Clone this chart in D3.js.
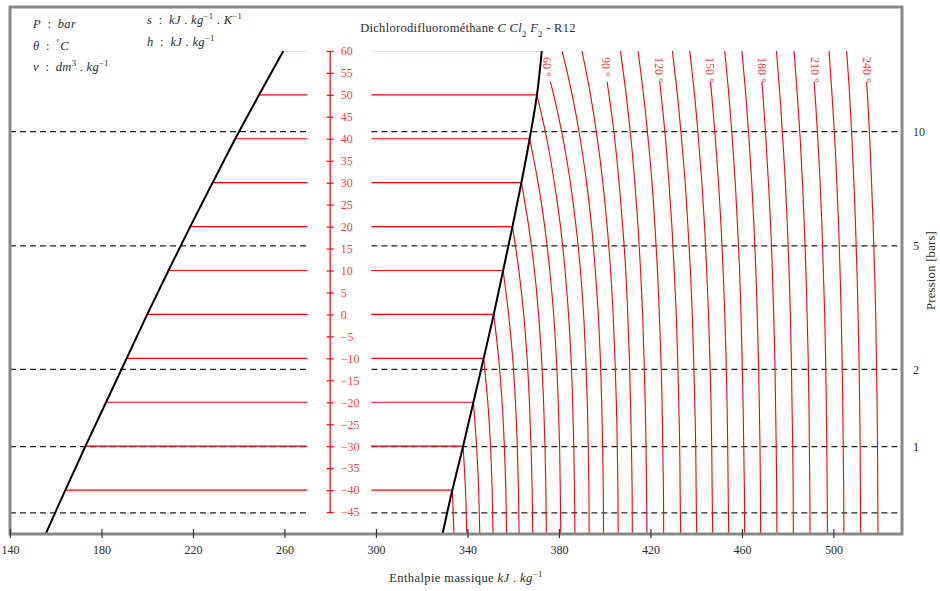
<!DOCTYPE html>
<html>
<head>
<meta charset="utf-8">
<title>R12 diagram</title>
<script src="https://cdn.jsdelivr.net/npm/d3@7"></script>
<style>
body { margin: 0; background: #fff; }
text { font-family: "Liberation Serif", "DejaVu Serif", serif; }
</style>
</head>
<body>
<script>
// saturation temperature levels (degC), used as the vertical scale (bottom to top)
var satLevels = [-50, -40, -30, -20, -10, 0, 10, 20, 30, 40, 50, 60];
// enthalpy of saturated liquid / vapour at those levels (kJ/kg)
var liquidH = [155.6, 164.2, 173.0, 182.0, 191.0, 200.0, 209.3, 218.8, 228.6, 238.5, 248.9, 259.5];
var vaporH  = [329.1, 333.4, 338.1, 342.6, 347.1, 351.5, 355.6, 359.7, 363.6, 367.2, 370.4, 372.5];

// isotherms of the vapour region: h read at each level from -50 up to min(T, 60)
var isoTemps = [-40, -30, -20, -10, 0, 10, 20, 30, 40, 50, 60, 70, 80, 90, 100, 110, 120,
                130, 140, 150, 160, 170, 180, 190, 200, 210, 220, 230, 240];
var isoH = [
  [334.1, 333.4],
  [339.7, 339.15, 338.1],
  [345.4, 344.9, 344.0, 342.6],
  [351.2, 350.8, 350.1, 348.9, 347.1],
  [357.1, 356.8, 356.15, 355.15, 353.65, 351.5],
  [362.6, 362.3, 361.8, 361.0, 359.8, 358.0, 355.6],
  [368.5, 368.3, 367.8, 367.1, 366.1, 364.6, 362.5, 359.7],
  [374.5, 374.3, 373.9, 373.3, 372.4, 371.1, 369.3, 366.8, 363.6],
  [380.8, 380.6, 380.3, 379.7, 378.9, 377.7, 376.0, 373.8, 370.9, 367.2],
  [387.0, 386.8, 386.5, 386.0, 385.3, 384.2, 382.7, 380.7, 378.0, 374.7, 370.4],
  [393.2, 393.1, 392.8, 392.4, 391.7, 390.8, 389.4, 387.5, 385.0, 381.8, 377.7, 372.5],
  [399.5, 399.4, 399.1, 398.7, 398.1, 397.2, 395.9, 394.3, 392.1, 389.3, 385.8, 381.4],
  [405.9, 405.8, 405.5, 405.1, 404.5, 403.7, 402.6, 401.1, 399.2, 396.8, 393.8, 390.1],
  [412.1, 412.0, 411.7, 411.3, 410.8, 410.1, 409.2, 407.9, 406.3, 404.4, 401.9, 399.0],
  [418.5, 418.3, 418.1, 417.7, 417.2, 416.6, 415.7, 414.6, 413.2, 411.5, 409.4, 406.9],
  [425.8, 425.7, 425.4, 425.1, 424.6, 423.9, 423.1, 422.0, 420.7, 419.0, 417.0, 414.6],
  [433.2, 433.0, 432.8, 432.4, 431.9, 431.3, 430.4, 429.4, 428.1, 426.6, 424.7, 422.5],
  [440.2, 440.0, 439.8, 439.4, 438.9, 438.3, 437.5, 436.4, 435.2, 433.6, 431.8, 429.6],
  [447.2, 447.0, 446.8, 446.5, 446.0, 445.4, 444.6, 443.7, 442.5, 441.0, 439.3, 437.2],
  [454.2, 454.0, 453.8, 453.5, 453.1, 452.5, 451.8, 450.9, 449.8, 448.4, 446.8, 444.9],
  [461.2, 461.1, 460.8, 460.5, 460.1, 459.6, 459.0, 458.1, 457.1, 455.8, 454.3, 452.5],
  [468.2, 468.1, 467.9, 467.6, 467.2, 466.7, 466.1, 465.3, 464.3, 463.1, 461.7, 460.0],
  [475.3, 475.2, 475.0, 474.7, 474.4, 473.9, 473.3, 472.6, 471.6, 470.5, 469.2, 467.6],
  [482.5, 482.4, 482.2, 481.9, 481.6, 481.2, 480.6, 479.9, 479.0, 477.9, 476.6, 475.1],
  [489.8, 489.7, 489.5, 489.3, 489.0, 488.5, 488.0, 487.3, 486.5, 485.5, 484.2, 482.8],
  [497.4, 497.3, 497.1, 496.9, 496.6, 496.2, 495.6, 495.0, 494.2, 493.2, 492.0, 490.6],
  [504.6, 504.5, 504.3, 504.1, 503.8, 503.4, 502.9, 502.3, 501.5, 500.6, 499.4, 498.1],
  [511.9, 511.8, 511.7, 511.5, 511.2, 510.8, 510.3, 509.7, 509.0, 508.1, 507.1, 505.8],
  [519.5, 519.4, 519.3, 519.1, 518.8, 518.5, 518.0, 517.4, 516.7, 515.9, 514.9, 513.7]
];
var isoLabels = [60, 90, 120, 150, 180, 210, 240];

// constant temperature lines in the two-phase region
var mixTemps = [-40, -30, -20, -10, 0, 10, 20, 30, 40, 50];

// tick values
var tempTicks = [-45, -40, -35, -30, -25, -20, -15, -10, -5, 0, 5, 10, 15, 20, 25, 30, 35, 40, 45, 50, 55, 60];
var hTicks = [140, 180, 220, 260, 300, 340, 380, 420, 460, 500];
var pressLabels = ["10", "5", "2", "1", ""];
var pressTsat = [41.6, 15.6, -12.5, -30.1, -45.2];

var W = 940, H = 591;
var mLeft = 10, mRight = 902, mTop = 7, mBottom = 534;
var gapFrom = 270, gapTo = 298, tempAxisH = 280;
var labelCutT = 53;
var ink = "#2a2a2a";

var x = d3.scaleLinear().domain([140, 530]).range([mLeft, mRight]);
var y = d3.scaleLinear().domain([-50, 70]).range([mBottom, mTop]);

var svg = d3.select("body").append("svg")
    .attr("width", W)
    .attr("height", H);

var defs = svg.append("defs");
defs.append("clipPath").attr("id", "plotClip")
  .append("rect")
    .attr("x", mLeft).attr("y", y(60))
    .attr("width", mRight - mLeft).attr("height", mBottom - y(60));
defs.append("clipPath").attr("id", "labelClip")
  .append("rect")
    .attr("x", mLeft).attr("y", y(labelCutT))
    .attr("width", mRight - mLeft).attr("height", mBottom - y(labelCutT));

// dashed pressure lines, broken in the middle
var grid = svg.append("g");
pressTsat.forEach(function(t) {
    [[140, gapFrom], [gapTo, 530]].forEach(function(seg) {
        grid.append("line")
            .attr("x1", x(seg[0])).attr("x2", x(seg[1]))
            .attr("y1", y(t)).attr("y2", y(t))
            .attr("stroke", "#222")
            .attr("stroke-width", 1.2)
            .attr("stroke-dasharray", "6,4");
    });
});

var plot = svg.append("g").attr("clip-path", "url(#plotClip)");

// faint line at 60 degC
[[liquidH[11], gapFrom], [gapTo, vaporH[11]]].forEach(function(seg) {
    plot.append("line")
        .attr("x1", x(seg[0])).attr("x2", x(seg[1]))
        .attr("y1", y(60) + 0.5).attr("y2", y(60) + 0.5)
        .attr("stroke", "#fbd5d5")
        .attr("stroke-width", 1);
});

// two-phase lines
mixTemps.forEach(function(t) {
    var i = satLevels.indexOf(t);
    [[liquidH[i], gapFrom], [gapTo, vaporH[i]]].forEach(function(seg) {
        plot.append("line")
            .attr("x1", x(seg[0])).attr("x2", x(seg[1]))
            .attr("y1", y(t)).attr("y2", y(t))
            .attr("stroke", "red")
            .attr("stroke-width", 1.2);
    });
});

var line = d3.line()
    .x(function(d) { return x(d[0]); })
    .y(function(d) { return y(d[1]); })
    .curve(d3.curveCatmullRom.alpha(0.5));

// isotherms
isoTemps.forEach(function(t, k) {
    var pts = isoH[k].map(function(h, i) { return [h, satLevels[i]]; });
    var labelled = isoLabels.indexOf(t) >= 0;
    plot.append("path")
        .attr("d", line(pts))
        .attr("fill", "none")
        .attr("stroke", "red")
        .attr("stroke-width", 1.1)
        .attr("clip-path", labelled ? "url(#labelClip)" : null);
    if (labelled) {
        var row = isoH[k];
        var hl = row[11] + (row[10] - row[11]) * 0.3;
        svg.append("text")
            .attr("transform", "translate(" + (x(hl) + 2) + "," + (y(60) + 6) + ") rotate(90)")
            .attr("dy", "0.35em")
            .attr("fill", "#ff4040")
            .attr("font-size", 12)
            .text(t + " \u00b0");
    }
});

// saturation curves
[liquidH, vaporH].forEach(function(arr) {
    plot.append("path")
        .attr("d", line(arr.map(function(h, i) { return [h, satLevels[i]]; })))
        .attr("fill", "none")
        .attr("stroke", "#000")
        .attr("stroke-width", 2);
});

// temperature scale in the middle
var tAxis = svg.append("g")
    .attr("transform", "translate(" + x(tempAxisH) + ",0)")
    .call(d3.axisRight(y).tickValues(tempTicks).tickSize(3.5).tickPadding(7));
tAxis.select(".domain").remove();
tAxis.selectAll(".tick line").attr("x1", -3.5).attr("stroke", "red").attr("stroke-width", 1.2);
tAxis.selectAll(".tick text")
    .attr("fill", "#ff4040")
    .attr("font-size", 12)
    .attr("font-family", "Liberation Serif, serif");
tAxis.append("line")
    .attr("y1", y(60)).attr("y2", y(-45))
    .attr("stroke", "red").attr("stroke-width", 1.2);

// frame
svg.append("rect")
    .attr("x", mLeft).attr("y", mTop)
    .attr("width", mRight - mLeft).attr("height", mBottom - mTop)
    .attr("fill", "none")
    .attr("stroke", "#888")
    .attr("stroke-width", 3);

// x axis
var xAxis = svg.append("g")
    .attr("transform", "translate(0," + (mBottom - 5) + ")")
    .call(d3.axisBottom(x).tickValues(hTicks).tickSize(9).tickPadding(7));
xAxis.select(".domain").remove();
xAxis.selectAll(".tick line").attr("stroke", "#333").attr("stroke-width", 1.2);
xAxis.selectAll(".tick text")
    .attr("fill", ink)
    .attr("font-size", 12)
    .attr("font-family", "Liberation Serif, serif");

// pressure labels on the right
var pAxis = svg.append("g")
    .attr("transform", "translate(" + mRight + ",0)")
    .call(d3.axisRight(y).tickValues(pressTsat).tickSize(0).tickPadding(11)
        .tickFormat(function(d, i) { return pressLabels[i]; }));
pAxis.select(".domain").remove();
pAxis.selectAll(".tick text")
    .attr("fill", ink)
    .attr("font-size", 12)
    .attr("font-family", "Liberation Serif, serif");

svg.append("text")
    .attr("transform", "translate(935," + ((mTop + mBottom) / 2) + ") rotate(-90)")
    .attr("text-anchor", "middle")
    .attr("fill", ink)
    .attr("font-size", 12.5)
    .attr("letter-spacing", 0.3)
    .text("Pression [bars]");

// rich text helper: parts = [text, style] where style: i italic, sup, sub
function rich(xp, yp, parts, size, anchor, spacing) {
    var t = svg.append("text")
        .attr("x", xp).attr("y", yp)
        .attr("font-size", size)
        .attr("fill", ink)
        .attr("letter-spacing", spacing || 0)
        .attr("text-anchor", anchor || "start");
    parts.forEach(function(p) {
        var s = t.append("tspan").text(p[0]);
        if (p[1] && p[1].indexOf("i") >= 0) s.attr("font-style", "italic");
        if (p[1] && p[1].indexOf("sup") >= 0) s.attr("baseline-shift", "super").attr("font-size", size * 0.7);
        if (p[1] && p[1].indexOf("sub") >= 0) s.attr("baseline-shift", "sub").attr("font-size", size * 0.7);
    });
    return t;
}

var colon = "\u2002:\u2002";
rich(33, 28, [["P", "i"], [colon], ["bar", "i"]], 12.5, "start", 0.3);
rich(33, 50, [["\u03b8", "i"], [colon], ["\u00b0", "sup"], ["C", "i"]], 12.5, "start", 0.3);
rich(33, 71, [["v", "i"], [colon], ["dm", "i"], ["3", "sup"], [" . "], ["kg", "i"], ["\u22121", "sup"]], 12.5, "start", 0.3);
rich(147, 24, [["s", "i"], [colon], ["kJ", "i"], [" . "], ["kg", "i"], ["\u22121", "sup"], [" . "], ["K", "i"], ["\u22121", "sup"]], 12.5, "start", 0.3);
rich(147, 46, [["h", "i"], [colon], ["kJ", "i"], [" . "], ["kg", "i"], ["\u22121", "sup"]], 12.5, "start", 0.3);

rich(468, 32, [["Dichlorodifluorom\u00e9thane "], ["C Cl", "i"], ["2", "sub"], [" F", "i"], ["2", "sub"], [" - R12"]], 12.5, "middle", 0.3);

rich(466, 582, [["Enthalpie massique "], ["kJ", "i"], [" . "], ["kg", "i"], ["\u22121", "sup"]], 12.5, "middle", 0.4);
</script>
</body>
</html>
